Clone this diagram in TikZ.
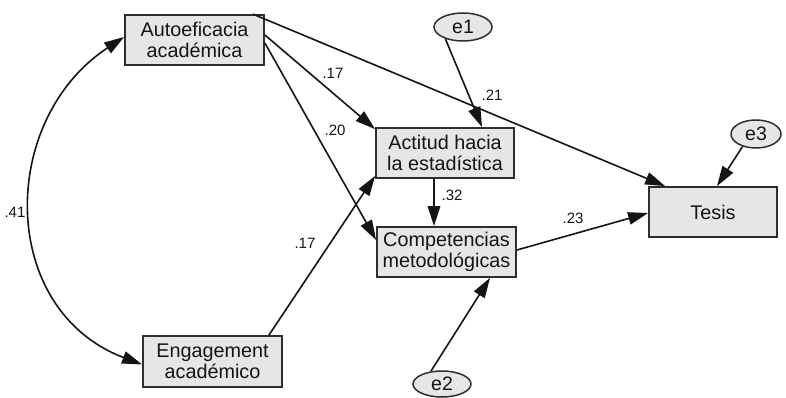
\documentclass[tikz,border=0pt]{standalone}
\usepackage{fontspec}
\setmainfont{Liberation Sans}
\usetikzlibrary{arrows.meta,shapes.geometric}
\definecolor{boxfill}{HTML}{E6E6E6}
\definecolor{boxline}{HTML}{2E2E2E}
\definecolor{ink}{HTML}{141414}
\begin{document}
\begin{tikzpicture}[x=1pt,y=-1pt,
  varbox/.style={draw=boxline,line width=1.8pt,fill=boxfill,minimum height=50pt,align=center,inner sep=0pt,
    font=\fontsize{19.8}{21.5}\selectfont,text=ink},
  errell/.style={ellipse,draw=boxline,line width=1.5pt,fill=boxfill,inner sep=0pt,
    font=\fontsize{19.5}{21}\selectfont,text=ink},
  path/.style={draw=ink,line width=1.6pt,-{Triangle[length=20pt,width=12.5pt]}},
  coef/.style={font=\fontsize{15}{16}\selectfont,text=ink,inner sep=0pt}]
\useasboundingbox (0,0) rectangle (786,398);
% boxes
\node[varbox,minimum width=139pt] (auto) at (194.5,40) {Autoeficacia\\acad\'emica};
\node[varbox,minimum width=138pt] (act) at (445,153) {Actitud hacia\\la estad\'istica};
\node[varbox,minimum width=139pt] (comp) at (446.5,252) {Competencias\\metodol\'ogicas};
\node[varbox,minimum width=128pt] (tesis) at (713,212) {Tesis};
\node[varbox,minimum width=139pt,minimum height=51pt] (eng) at (212.5,361.5) {Engagement\\acad\'emico};
% error terms
\node[errell,minimum width=58pt,minimum height=28pt] (e1) at (463,27) {e1};
\node[errell,minimum width=50pt,minimum height=28pt] (e3) at (756,134) {e3};
\node[errell,minimum width=58pt,minimum height=26pt] (e2) at (442,384) {e2};
% paths
\draw[path] ([xshift=-12pt]auto.north east) -- ([xshift=17pt]tesis.north west);
\draw[path] ([yshift=5pt]auto.east) -- ([yshift=-2pt]act.north west);
\draw[path] ([yshift=-3pt]auto.east) -- ([yshift=12pt]comp.west);
\draw[path] ([xshift=-14pt]eng.north east) -- ([yshift=3pt]act.south west);
\draw[path] ([xshift=-11pt]act.south) -- ([xshift=-12.5pt]comp.north);
\draw[path] (e1.214) -- ([xshift=37pt]act.north);
\draw[path] (e3.223) -- ([xshift=4pt]tesis.north);
\draw[path] ([yshift=2pt]comp.east) -- ([yshift=-1pt]tesis.west);
\draw[path] (e2.131) -- ([xshift=43.5pt]comp.south);
\draw[path,{Triangle[length=20pt,width=12.5pt]}-{Triangle[length=20pt,width=12.5pt]}]
  ([yshift=3pt]auto.west) .. controls (-2,120) and (-2,310) .. ([yshift=-3pt]eng.west);
% coefficients
\node[coef] (c41) at (15,212) {.41};
\node[coef] (c17a) at (333,73) {.17};
\node[coef] (c20) at (335,130) {.20};
\node[coef] (c21) at (492,95) {.21};
\node[coef] (c32) at (452,195) {.32};
\node[coef] (c17b) at (305,243) {.17};
\node[coef] (c23) at (573,218) {.23};
\end{tikzpicture}
\end{document}
